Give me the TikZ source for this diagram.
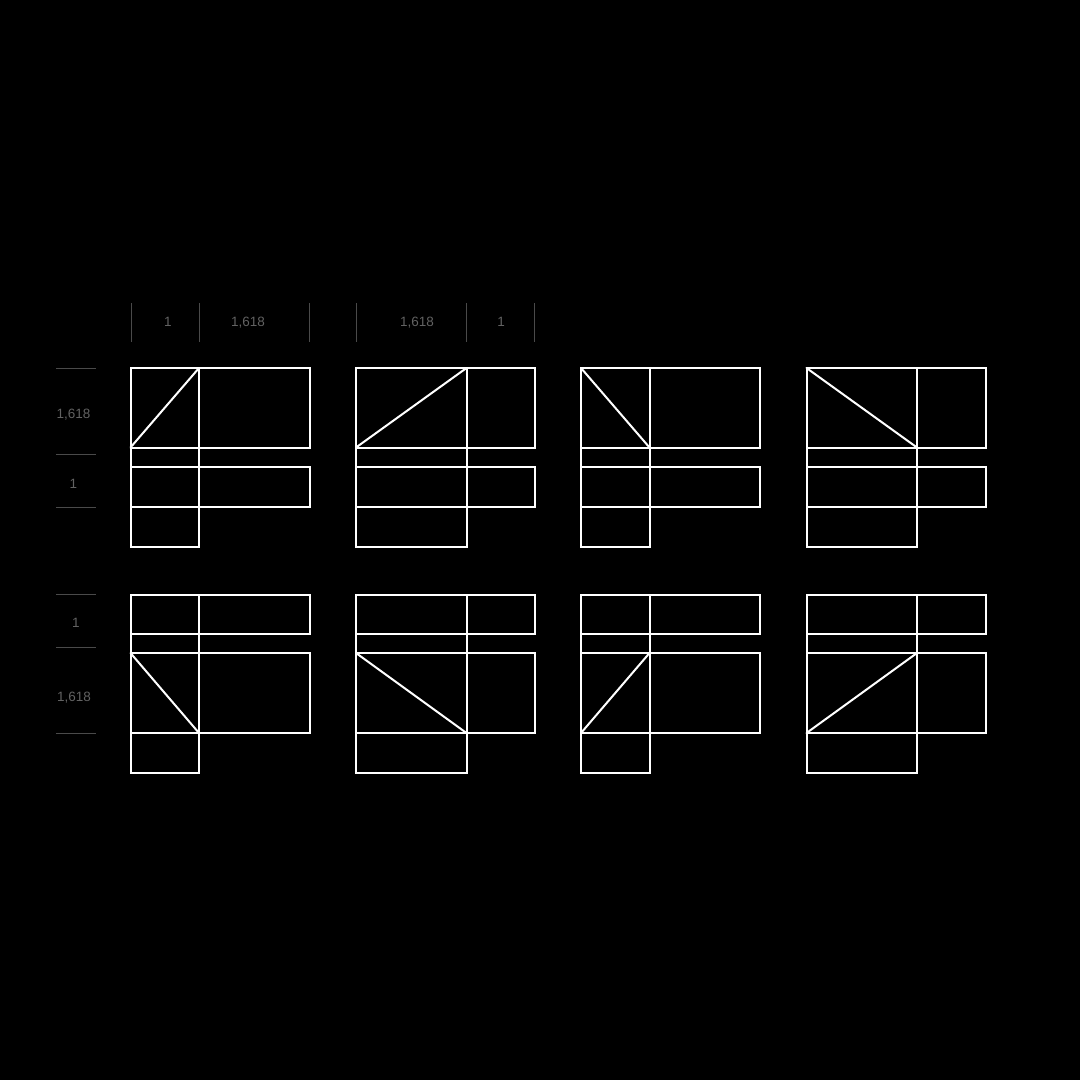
\documentclass[tikz,border=0pt]{standalone}
\usepackage{fontspec}
\setmainfont{Liberation Sans}
\definecolor{dimline}{HTML}{4A4A4A}
\definecolor{dimtext}{HTML}{626262}
\begin{document}
\begin{tikzpicture}[x=1pt,y=-1pt,
  frame/.style={draw=white,line width=2pt},
  diag/.style={draw=white,line width=2pt,line cap=round},
  tick/.style={draw=dimline,line width=1pt},
  lbl/.style={text=dimtext,font=\fontsize{13.5}{16}\selectfont,inner sep=0pt,anchor=base}]
\fill[black] (0,0) rectangle (1080,1080);
\useasboundingbox (0,0) rectangle (1080,1080);
% figures
\foreach \xa/\xb/\xc in {130.5/199/309.5, 356/466.5/535, 581/649.5/760, 806.5/917/986}{
  % row 1
  \draw[frame] (\xa,368) rectangle (\xc,447.5);
  \draw[frame] (\xa,467) rectangle (\xc,507);
  \draw[frame] (\xa,507) rectangle (\xb,547);
  \draw[frame] (\xa,447.5) -- (\xa,467);
  \draw[frame] (\xb,368) -- (\xb,547);
  % row 2
  \draw[frame] (\xa,594.5) rectangle (\xc,634);
  \draw[frame] (\xa,653) rectangle (\xc,733);
  \draw[frame] (\xa,733) rectangle (\xb,773);
  \draw[frame] (\xa,634) -- (\xa,653);
  \draw[frame] (\xb,594.5) -- (\xb,773);
}
% diagonals
\draw[diag] (130.5,447.5) -- (199,368);
\draw[diag] (356,447.5) -- (466.5,368);
\draw[diag] (581,368) -- (649.5,447.5);
\draw[diag] (806.5,368) -- (917,447.5);
\draw[diag] (130.5,653) -- (199,733);
\draw[diag] (356,653) -- (466.5,733);
\draw[diag] (581,733) -- (649.5,653);
\draw[diag] (806.5,733) -- (917,653);
% top dimension ticks
\foreach \x in {131.5,199,309.5,356.5,466.5,534.5}{
  \draw[tick] (\x,303) -- (\x,342);
}
\node[lbl] (t1) at (168,326.5) {1};
\node[lbl] (t2) at (248,326.5) {1,618};
\node[lbl] (t3) at (417,326.5) {1,618};
\node[lbl] (t4) at (501,326.5) {1};
% left dimension ticks
\foreach \y in {368.5,454.5,507,594.5,647,733.5}{
  \draw[tick] (56,\y) -- (96,\y);
}
\node[lbl] (l1) at (73.5,418) {1,618};
\node[lbl] (l2) at (73.5,488) {1};
\node[lbl] (l3) at (76,627) {1};
\node[lbl] (l4) at (74,701) {1,618};
\end{tikzpicture}
\end{document}
